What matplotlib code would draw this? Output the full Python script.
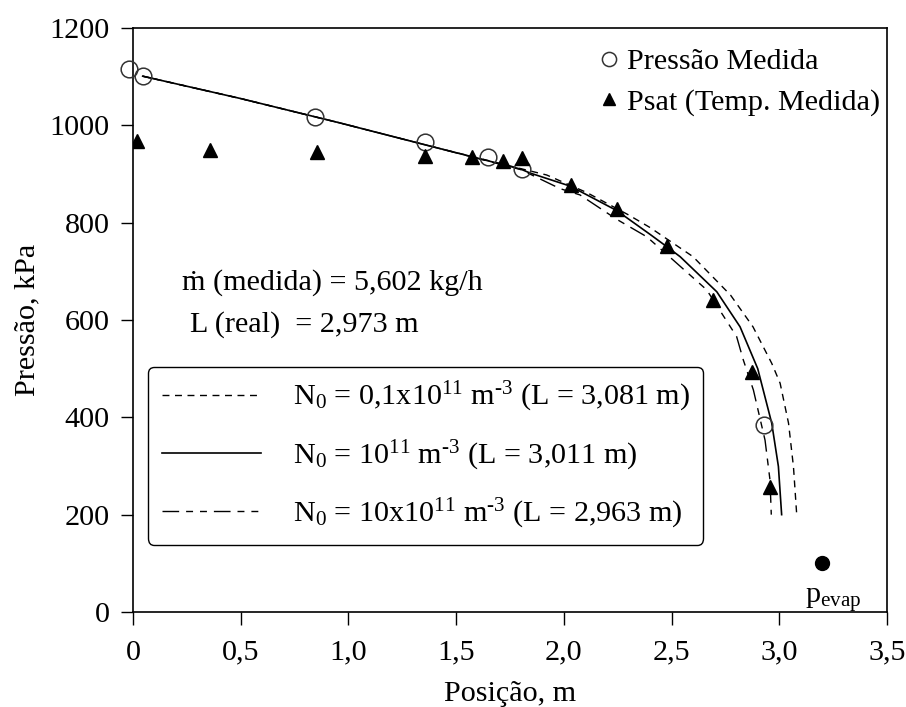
import matplotlib
matplotlib.use("Agg")
import matplotlib.pyplot as plt

plt.rcParams['font.family'] = ['Liberation Serif', 'DejaVu Serif']
plt.rcParams['mathtext.fontset'] = 'custom'
plt.rcParams['mathtext.rm'] = 'Liberation Serif'
plt.rcParams['mathtext.it'] = 'Liberation Serif:italic'
plt.rcParams['mathtext.default'] = 'regular'

# Measured pressure along the tube
pos_medida = [-0.017, 0.045, 0.845, 1.356, 1.65, 1.805, 2.928]
p_medida = [1115, 1101, 1018, 966, 934, 911, 384]

# Saturation pressure from measured temperature
pos_psat = [0.017, 0.357, 0.853, 1.356, 1.572, 1.719, 1.805, 2.032, 2.245,
            2.477, 2.691, 2.872, 2.957]
p_psat = [968, 950, 946, 937, 935, 927, 932, 877, 829, 752, 642, 494, 257]

# Model predictions for three nucleation densities
pos_n01 = [0.045, 0.5, 0.96, 1.4, 1.8, 1.92, 2.106, 2.30, 2.40, 2.60, 2.774,
           2.878, 2.965, 3.004, 3.043, 3.066, 3.081]
p_n01 = [1101, 1055, 1005, 955, 911, 898, 862, 816, 790, 730, 651,
         586, 511, 470, 388, 298, 200]

pos_n1 = [0.045, 0.5, 0.96, 1.4, 1.8, 1.843, 2.03, 2.245, 2.40, 2.48, 2.54,
          2.71, 2.818, 2.90, 2.965, 2.996, 3.011]
p_n1 = [1101, 1055, 1005, 955, 910, 902, 875, 825, 776, 750, 730,
        658, 586, 500, 388, 299, 200]

pos_n10 = [0.045, 0.5, 0.96, 1.4, 1.8, 1.982, 2.075, 2.245, 2.385, 2.508,
           2.663, 2.802, 2.833, 2.88, 2.934, 2.957, 2.963]
p_n10 = [1101, 1055, 1005, 955, 909, 870, 857, 807, 771, 723,
         662, 566, 518, 456, 353, 271, 200]

pos_evap = [3.2]
p_evap = [101]

labels_model = [r"N$_0$ = 0,1x10$^{11}$ m$^{\text{-3}}$ (L = 3,081 m)",
                r"N$_0$ = 10$^{11}$ m$^{\text{-3}}$ (L = 3,011 m)",
                r"N$_0$ = 10x10$^{11}$ m$^{\text{-3}}$ (L = 2,963 m)"]

x_ticks = [0, 0.5, 1.0, 1.5, 2.0, 2.5, 3.0, 3.5]
x_ticklabels = ["0", "0,5", "1,0", "1,5", "2,0", "2,5", "3,0", "3,5"]
y_ticks = [0, 200, 400, 600, 800, 1000, 1200]

fig = plt.figure(figsize=(9.06, 7.07), dpi=100)
ax = fig.add_axes([0.1468, 0.1344, 0.8322, 0.826])

fs = 21.7
dash_short = (0, (5, 4))
dash_long_short = (0, (12, 5, 5, 5, 5, 5))

l01, = ax.plot(pos_n01, p_n01, color='black', lw=1.0, linestyle=dash_short)
l1, = ax.plot(pos_n1, p_n1, color='black', lw=1.2, linestyle='-')
l10, = ax.plot(pos_n10, p_n10, color='black', lw=1.0, linestyle=dash_long_short)

h_med, = ax.plot(pos_medida, p_medida, linestyle='none', marker='o', ms=12,
                 mfc='none', mec='#333333', mew=1.1, clip_on=False, zorder=4)
h_sat, = ax.plot(pos_psat, p_psat, linestyle='none', marker='^', ms=10,
                 color='black', zorder=4)
ax.plot(pos_evap, p_evap, linestyle='none', marker='o', ms=10, color='black')
ax.text(3.25, 18, r"p$_{\mathrm{evap}}$", fontsize=fs, ha='center', va='baseline')

ax.text(0.227, 676, "ṁ (medida) = 5,602 kg/h", fontsize=fs, va='center', ha='left')
ax.text(0.265, 590, "L (real)  = 2,973 m", fontsize=fs, va='center', ha='left')

ax.set_xlim(0.0, 3.5)
ax.set_ylim(0, 1200)
ax.set_xticks(x_ticks)
ax.set_xticklabels(x_ticklabels)
ax.set_yticks(y_ticks)
ax.tick_params(axis='both', direction='out', length=9, width=1.0,
               labelsize=fs, pad=8)
ax.tick_params(axis='x', pad=11)
for sp in ax.spines.values():
    sp.set_linewidth(1.2)

ax.set_xlabel("Posição, m", fontsize=fs, labelpad=11)
ax.set_ylabel("Pressão, kPa", fontsize=fs, labelpad=6)

leg_pts = ax.legend([h_med, h_sat], ["Pressão Medida", "Psat (Temp. Medida)"],
                    loc='upper right', bbox_to_anchor=(1.007, 0.986), frameon=False,
                    fontsize=fs, handlelength=0.6, handletextpad=0.3,
                    labelspacing=0.45, borderaxespad=0.0, markerscale=0.85)
ax.add_artist(leg_pts)

ax.legend([l01, l1, l10], labels_model, loc='upper left',
          bbox_to_anchor=(0.02, 0.42), fontsize=fs, frameon=True, fancybox=True,
          edgecolor='black', framealpha=1.0, handlelength=3.3,
          handletextpad=1.05, labelspacing=0.8, borderpad=0.45,
          borderaxespad=0.0)

fig.savefig("out.png", dpi=100)
